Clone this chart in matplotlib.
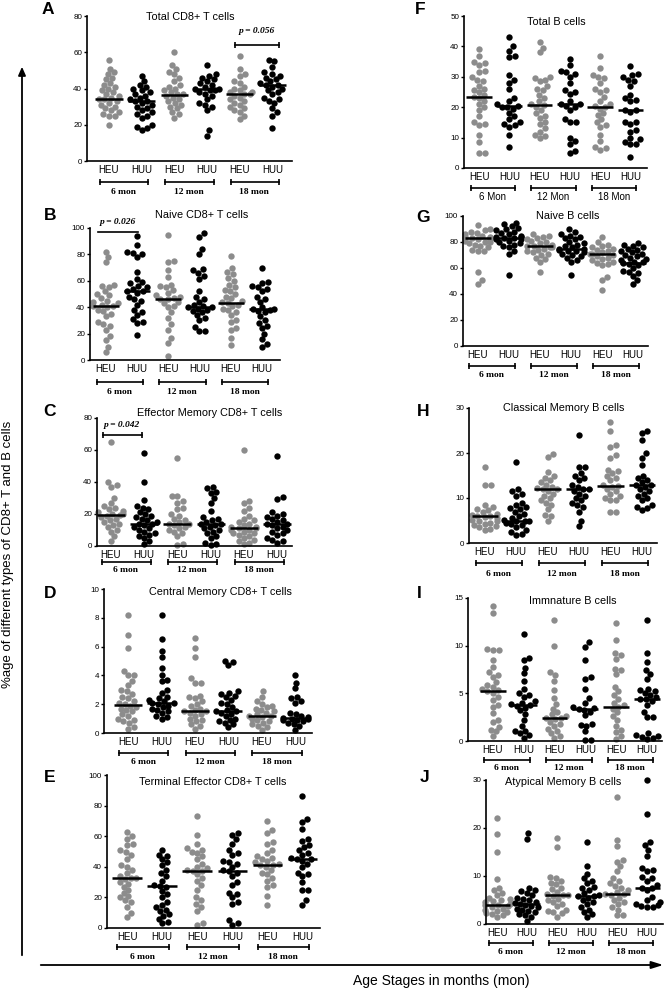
import matplotlib

matplotlib.use("Agg")
import matplotlib.pyplot as plt  # noqa: E402
import numpy as np  # noqa: E402
from matplotlib.transforms import blended_transform_factory, offset_copy  # noqa: E402

plt.rcParams.update({
    "font.family": "sans-serif",
    "font.sans-serif": ["Liberation Sans", "DejaVu Sans"],
    "axes.spines.top": False,
    "axes.spines.right": False,
})

W, H = 667, 989
GRAY = "#8c8c8c"
SERIF = "Liberation Serif"

groups = ["HEU", "HUU", "HEU", "HUU", "HEU", "HUU"]
ages_lower = ["6 mon", "12 mon", "18 mon"]
ages_upper = ["6 Mon", "12 Mon", "18 Mon"]

# ---- values (one list per HEU/HUU x 6/12/18 mon group) ----
total_cd8 = [
    [56, 51, 49, 48, 46, 45, 43, 42, 41, 40, 39, 38, 37, 36, 35, 34, 34, 33, 32, 31, 30, 29, 28, 27, 26, 25, 25, 20],
    [47, 44, 42, 41, 40, 39, 38, 37, 36, 35, 34, 33, 33, 32, 31, 30, 29, 28, 27, 26, 25, 24, 20, 19, 18, 17],
    [60, 53, 51, 49, 48, 46, 44, 42, 41, 40, 39, 38, 37, 37, 36, 35, 34, 33, 32, 31, 30, 29, 27, 26, 24],
    [53, 48, 47, 46, 45, 44, 43, 42, 41, 40, 40, 39, 39, 38, 37, 36, 34, 32, 31, 30, 28, 17, 14],
    [58, 51, 48, 47, 44, 43, 41, 40, 39, 38, 38, 37, 37, 36, 35, 34, 33, 32, 31, 30, 29, 28, 27, 25, 23],
    [56, 55, 52, 49, 48, 47, 46, 45, 44, 43, 42, 42, 41, 40, 39, 38, 37, 35, 34, 33, 32, 29, 27, 25, 18],
]
total_cd8_med = [34, 33, 36.5, 39.5, 37, 42]

naive_cd8 = [
    [82, 78, 74, 57, 56, 55, 52, 50, 49, 47, 45, 44, 43, 42, 41, 41, 40, 38, 37, 35, 33, 29, 27, 26, 23, 18, 15, 10, 6],
    [94, 87, 82, 81, 80, 78, 67, 61, 59, 58, 56, 55, 54, 52, 52, 51, 48, 46, 45, 42, 38, 36, 34, 31, 29, 28, 19],
    [95, 75, 74, 68, 63, 57, 56, 55, 53, 51, 49, 48, 47, 46.5, 46, 44, 43, 41, 40, 36, 32, 27, 23, 17, 13, 3],
    [96, 93, 84, 80, 69, 68, 66, 64, 61, 52, 48, 46, 44, 42, 41, 40.5, 40, 39, 38, 37, 36, 34, 32, 30, 25, 22, 22],
    [79, 70, 67, 65, 62, 60, 57, 55, 53, 52, 50, 48, 47, 45, 44, 43.5, 42, 41, 39, 38, 36, 34, 30, 29, 24, 23, 17, 11],
    [70, 59, 58, 56, 55, 54, 52, 48, 46, 44, 40, 39, 38.5, 38, 37, 36, 33, 30, 28, 26, 24, 20, 16, 12, 10],
]
naive_cd8_med = [41, 52, 46.5, 40.5, 43.5, 38.5]

em_cd8 = [
    [65, 40, 38, 37, 30, 27, 25, 24, 23, 22, 21, 20, 20, 19.5, 19, 18, 17, 16, 15, 14, 13, 12, 10, 9, 6, 3],
    [58, 40, 29, 25, 24, 23, 21, 20, 19, 18, 17, 16, 15, 14, 14, 13, 12, 11, 10, 9, 8, 7, 6, 5, 3, 1],
    [55, 31, 31, 28, 27, 24, 23, 20, 19, 17, 16, 15, 14, 14, 13, 12, 11, 10, 9, 8, 6, 1, 0.5],
    [37, 36, 34, 33, 30, 27, 22, 18, 17, 16, 15, 14, 13.5, 13, 12, 11, 10, 9, 8, 6, 5, 2, 1, 0.5],
    [60, 28, 27, 24, 22, 19, 17, 16, 15, 14, 13, 12, 12, 11, 11, 10, 10, 9, 8, 8, 7, 6, 5, 4, 3, 2, 1],
    [56, 30.5, 29.5, 21, 20, 19, 18, 17, 16, 15, 14, 14, 13, 12, 11, 10, 9, 8, 7, 5, 4, 3, 2],
]
em_cd8_med = [19.5, 14, 14, 13.5, 11, 14]

cm_cd8 = [
    [8.2, 6.8, 5.9, 4.3, 4.0, 4.0, 3.6, 3.3, 3.0, 2.9, 2.7, 2.5, 2.4, 2.2, 2.1, 2.0, 1.9, 1.8, 1.7, 1.6, 1.5, 1.3, 1.2, 1.0, 0.9, 0.8, 0.7, 0.4, 0.3],
    [8.2, 6.5, 5.7, 5.3, 4.5, 4.0, 3.7, 3.6, 3.0, 2.8, 2.5, 2.4, 2.3, 2.2, 2.1, 2.1, 2.0, 1.9, 1.8, 1.7, 1.6, 1.5, 1.4, 1.2, 1.1, 1.0],
    [6.6, 5.9, 5.3, 3.8, 3.5, 3.5, 2.6, 2.5, 2.4, 2.2, 2.0, 1.9, 1.7, 1.6, 1.5, 1.5, 1.4, 1.3, 1.2, 1.0, 0.9, 0.8, 0.6, 0.5, 0.3],
    [5.0, 4.9, 4.7, 2.9, 2.8, 2.7, 2.6, 2.5, 2.3, 2.1, 2.0, 1.8, 1.6, 1.5, 1.5, 1.4, 1.3, 1.2, 1.0, 0.9, 0.8, 0.7, 0.6, 0.4],
    [2.9, 2.5, 2.2, 2.0, 1.9, 1.8, 1.7, 1.6, 1.5, 1.4, 1.3, 1.2, 1.15, 1.1, 1.0, 0.9, 0.8, 0.7, 0.6, 0.5, 0.4, 0.2],
    [4.0, 3.5, 3.1, 2.5, 2.4, 2.2, 2.1, 1.4, 1.3, 1.2, 1.1, 1.05, 1.0, 1.0, 0.9, 0.9, 0.8, 0.7, 0.6, 0.5, 0.2],
]
cm_cd8_med = [1.95, 2.1, 1.5, 1.5, 1.15, 1.05]

te_cd8 = [
    [63, 60, 58, 55, 54, 51, 50, 48, 45, 41, 40, 38, 36, 34, 33, 32.5, 32, 30, 29, 27, 25, 23, 21, 20, 18, 17, 14, 10, 7],
    [51, 48, 47, 45, 43, 41, 38, 36, 34, 31, 28, 27.5, 27, 24, 22, 20, 17, 15, 14, 12, 11, 9, 8, 6, 4, 3],
    [73, 61, 55, 52, 51, 50, 49, 47, 45, 42, 40, 39, 38, 37.5, 37, 35, 33, 31, 28, 25, 20, 18, 16, 14, 11, 3, 2],
    [62, 61, 58, 55, 51, 49, 48, 44, 43, 42, 40, 38, 37, 36, 34, 30, 28, 23, 22, 20, 17, 16, 5, 3, 2],
    [70, 64, 62, 56, 55, 51, 49, 47, 46, 45, 44, 43, 42, 41.5, 41, 40, 38, 36, 35, 33, 31, 28, 27, 21, 15],
    [86, 71, 69, 65, 58, 57, 54, 53, 51, 49, 48, 46, 45, 45, 44, 42, 40, 36, 35, 34, 30, 25, 25, 18, 15],
]
te_cd8_med = [32.5, 27.5, 37.5, 37, 41.5, 45]

total_b = [
    [39, 37, 35, 34.5, 34, 32, 31.5, 30, 29, 28.5, 27, 26, 25.5, 25, 24, 23.5, 23, 22, 21, 20, 19, 17, 15, 14.5, 14, 11, 8.5, 5, 5],
    [43, 40, 38.5, 37, 36.5, 30.5, 29, 28, 26, 23, 22, 21, 20.5, 20, 20, 19.5, 18, 17, 16, 15, 14.5, 14, 13.5, 11, 7],
    [41.5, 39.5, 38, 30, 29.5, 29, 28.5, 27, 26, 25.5, 24, 23, 22, 21, 20.7, 20, 19, 18, 17, 16.5, 15, 14.5, 13, 12, 11, 10.5, 10],
    [36, 34, 32, 31.5, 31, 30, 28, 25.5, 25, 24.5, 22, 21, 21, 20.5, 20, 19, 16, 15, 15, 10, 9, 8, 5.5, 5],
    [37, 33, 30.5, 30, 29.5, 28, 26, 25.5, 25, 23.5, 22, 21, 20.5, 20, 19.5, 18, 17.5, 16, 15, 14, 13.5, 11, 9, 7, 6.5, 6],
    [33.5, 31, 30.5, 30, 29, 28.5, 27, 24, 23, 22.5, 22, 19, 19, 18.5, 15, 15, 14.5, 12.5, 12, 10, 9.5, 8.5, 8, 8, 3.5],
]
total_b_med = [23.5, 20.5, 20.7, 21, 20, 19]

naive_b = [
    [93, 90, 89, 88, 87, 86, 85, 84, 84, 83, 83, 83, 82, 82, 81, 80, 80, 79, 78, 77, 76, 74, 73, 73, 57, 51, 48],
    [95, 94, 92, 91, 90, 89, 88, 87, 86, 85, 84, 84, 83, 83, 82, 82, 81, 80, 79, 78, 77, 76, 73, 71, 55],
    [86, 85, 84, 83, 82, 81, 80, 79, 78, 77, 77, 76, 76, 75, 74, 73, 72, 71, 70, 68, 67, 65, 57],
    [90, 88, 86, 85, 84, 83, 82, 80, 79, 78, 77, 76, 75, 75, 74, 73, 73, 72, 71, 70, 69, 68, 66, 65, 55],
    [84, 80, 78, 77, 76, 75, 74, 73, 72, 71, 71, 70, 69, 68, 67, 66, 65, 64, 63, 62, 53, 51, 43],
    [79, 78, 77, 76, 75, 74, 73, 72, 71, 70, 69, 68, 67, 66, 65, 65, 64, 63, 62, 60, 58, 57, 56, 54, 51, 48],
]
naive_b_med = [83, 83, 77, 75, 71, 64]

classical_b = [
    [17, 13, 13, 8.5, 8, 7.5, 7.3, 7, 6.5, 6.3, 6, 6, 5.8, 5.5, 5.2, 5, 4.8, 4.5, 4.3, 4, 3.8, 3.5, 3.2, 3],
    [18, 12, 11.5, 11, 10.5, 9, 8.5, 8, 7.8, 7.5, 7, 6.5, 6, 5.5, 5.2, 5, 5, 4.8, 4.5, 4.2, 4, 3.5, 3, 2.5, 2, 1.8],
    [19.8, 19.2, 15.8, 15, 14.5, 14, 13.5, 13, 12.5, 12.2, 12, 12, 11.5, 11, 10.5, 10, 9.5, 9, 8.5, 7.5, 6.2, 6, 5],
    [24, 17, 17, 15.5, 15, 14.5, 14, 13, 12.5, 12, 12, 11.5, 11, 10.5, 10, 9.5, 9, 8.5, 8, 7, 5, 3.8],
    [27, 25, 21.7, 21.3, 19.5, 19, 16.3, 16, 15.5, 15, 14.5, 14, 13, 12.7, 12.5, 12, 11.5, 11, 10.5, 10, 9.5, 9.5, 7, 7],
    [25, 24.5, 23, 20, 19, 17.3, 15, 14.5, 14, 13.5, 13, 13, 12.5, 12, 11.5, 11, 10.5, 10, 9.5, 8.5, 8, 7.8, 7.3],
]
classical_b_med = [6, 5, 12, 12, 12.7, 13]

immature_b = [
    [14.2, 13.4, 9.6, 9.5, 9.5, 8.5, 7.8, 7.2, 6.9, 6.7, 6.2, 5.9, 5.7, 5.5, 5.3, 5.2, 5.0, 4.6, 4.3, 3.8, 3.6, 2.9, 2.2, 2.0, 1.5, 1.2, 1.0, 0.5],
    [11.2, 8.7, 8.5, 7.7, 7.1, 6.3, 5.5, 5.0, 4.8, 4.6, 4.2, 4.0, 3.9, 3.8, 3.7, 3.5, 3.2, 2.8, 2.2, 1.6, 1.1, 1.0, 0.8, 0.6, 0.3],
    [12.7, 10.0, 7.2, 6.9, 6.3, 5.3, 4.5, 3.9, 3.4, 3.0, 2.8, 2.6, 2.4, 2.4, 2.3, 2.0, 1.8, 1.6, 1.3, 1.0, 0.8, 0.5, 0.3],
    [10.4, 9.9, 8.5, 6.7, 6.5, 5.5, 4.5, 4.0, 3.6, 3.5, 3.4, 3.3, 3.0, 2.7, 1.8, 1.7, 1.6, 1.0, 0.1, 0.1],
    [12.4, 10.6, 9.2, 9.0, 8.6, 7.6, 7.4, 7.0, 5.7, 5.2, 4.8, 4.4, 4.0, 3.8, 3.6, 3.4, 3.0, 2.6, 2.2, 1.6, 1.2, 0.9, 0.5, 0.2],
    [12.7, 9.2, 8.3, 7.4, 7.0, 6.5, 5.5, 5.3, 5.2, 5.0, 4.8, 4.6, 4.4, 4.4, 4.2, 3.8, 3.0, 2.5, 2.5, 0.8, 0.6, 0.5, 0.4, 0.3, 0.2],
]
immature_b_med = [5.2, 3.8, 2.4, 3.4, 3.6, 4.4]

atypical_b = [
    [22, 18.8, 15, 9.4, 7.5, 7, 6.5, 6, 5.5, 5.2, 5, 4.7, 4.5, 4.2, 4, 4, 3.8, 3.5, 3.2, 3, 2.8, 2.5, 2.2, 2, 1.8, 1.5],
    [19, 17.8, 7.6, 7, 6.8, 6.5, 6, 5.5, 5.2, 5, 4.6, 4.3, 4.2, 4, 3.8, 3.5, 3.2, 3, 2.8, 2.5, 2, 1.8, 1.5, 0.7],
    [18, 16.1, 9.7, 9.5, 9, 8.5, 8.3, 7.6, 7.2, 6.7, 6.3, 6, 6, 5.8, 5.3, 5, 4.6, 4.2, 3.7, 3, 2.8, 2.4, 2.2, 1.5],
    [17, 12, 10.5, 9.5, 9, 8.5, 7.8, 7.5, 7, 6.4, 6, 5.8, 5.8, 5.5, 5, 4.5, 4.2, 3.5, 3, 2.5, 2, 1.5],
    [26.4, 17.5, 16.2, 13.3, 13, 12, 11, 9.5, 9, 8.5, 8, 7.6, 7, 6.7, 6.3, 6.2, 6, 5.5, 5, 4.5, 4.2, 3.5, 3, 1.9, 1.8],
    [30, 23, 17.1, 16.5, 15.4, 14.2, 11.6, 11.3, 11, 9.7, 9.5, 9, 8.2, 7.6, 7.6, 7, 5.7, 5, 4.5, 4.2, 4, 3.8, 3.6, 3.5],
]
atypical_b_med = [4, 4.2, 6, 5.8, 6.3, 7.6]

# panel: letter, title, data, medians, ymax, ytick step, age labels,
# axes box in pixels (left, top, right, bottom), x margin left/right (group units),
# title x (px), bracket / age label offsets below the axis (px)
panels = [
    ("A", "Total CD8+ T cells", total_cd8, total_cd8_med, 80, 20, ages_lower, (87, 16, 292, 161), (0.67, 0.6), 190, (21, 31)),
    ("B", "Naive CD8+ T cells", naive_cd8, naive_cd8_med, 100, 20, ages_lower, (90, 228, 280, 360), (0.5, 0.58), 202, (22, 32)),
    ("C", "Effector Memory CD8+ T cells", em_cd8, em_cd8_med, 80, 20, ages_lower, (97, 418, 292, 546), (0.42, 0.45), 210, (16, 24)),
    ("D", "Central Memory CD8+ T cells", cm_cd8, cm_cd8_med, 10, 2, ages_lower, (104, 589, 312, 733), (0.72, 0.5), 220, (20, 29)),
    ("E", "Terminal Effector CD8+ T cells", te_cd8, te_cd8_med, 100, 20, ages_lower, (107, 775, 320, 928), (0.57, 0.5), 213, (19, 29)),
    ("F", "Total B cells", total_b, total_b_med, 50, 10, ages_upper, (464, 16, 647, 168), (0.5, 0.55), 556, (20, 29)),
    ("G", "Naive B cells", naive_b, naive_b_med, 100, 20, ages_lower, (463, 216, 648, 346), (0.48, 0.48), 568, (20, 29)),
    ("H", "Classical Memory B cells", classical_b, classical_b_med, 30, 10, ages_lower, (469, 408, 657, 543), (0.5, 0.48), 564, (20, 31)),
    ("I", "Immnature B cells", immature_b, immature_b_med, 15, 5, ages_lower, (468, 598, 662, 741), (0.8, 0.48), 573, (19, 27)),
    ("J", "Atypical Memory B cells", atypical_b, atypical_b_med, 30, 10, ages_lower, (486, 780, 663, 924), (0.37, 0.53), 563, (19, 28)),
]

letter_pos = {"A": (48, 10), "B": (50, 215), "C": (50, 412), "D": (50, 593), "E": (50, 777),
              "F": (420, 9), "G": (423, 217), "H": (423, 412), "I": (419, 593), "J": (425, 777)}
title_y = {"A": 17, "B": 215, "C": 413, "D": 592, "E": 782,
           "F": 22, "G": 216, "H": 408, "I": 601, "J": 782}


def swarm_x(vals, center, ypx, xpx, d=5.8, cap=12.5):
    """Beeswarm offsets in pixels, converted back to group units."""
    vals = np.asarray(vals, dtype=float)
    out = np.zeros(len(vals))
    placed = []
    for i in np.argsort(vals):
        y = vals[i] * ypx
        near = [(px, py) for px, py in placed if abs(py - y) < d]
        cands = [0.0]
        for px, py in near:
            dx = np.sqrt(d * d - (py - y) ** 2)
            cands += [px + dx, px - dx]
        cands.sort(key=abs)
        best = cands[-1]
        for c in cands:
            if all((c - px) ** 2 + (y - py) ** 2 >= d * d - 1e-6 for px, py in near):
                best = c
                break
        best = max(-cap, min(cap, best))
        placed.append((best, y))
        out[i] = center + best / xpx
    return out


fig = plt.figure(figsize=(W / 100, H / 100), dpi=100)
axes = {}
for (letter, title, data, meds, ymax, ystep, ages, box, marg, tx, offs) in panels:
    l, t, r, b = box
    ax = fig.add_axes([l / W, 1 - b / H, (r - l) / W, (b - t) / H])
    axes[letter] = ax
    ax.set_xlim(-marg[0], 5 + marg[1])
    ax.set_ylim(0, ymax)
    ypx = (b - t) / ymax
    xpx = (r - l) / (5 + marg[0] + marg[1])
    for gi, vals in enumerate(data):
        color = GRAY if gi % 2 == 0 else "black"
        xs = swarm_x(vals, gi, ypx, xpx)
        ax.scatter(xs, vals, s=21, color=color, linewidths=0, zorder=2, clip_on=False)
        ax.plot([gi - 0.42, gi + 0.42], [meds[gi], meds[gi]], color="black", lw=1.8, zorder=3,
                solid_capstyle="butt")
    ax.set_yticks(np.arange(0, ymax + ystep / 2, ystep))
    ax.set_xticks(range(6), groups)
    ax.tick_params(axis="x", length=0, pad=3, labelsize=7)
    ax.tick_params(axis="y", length=2.5, width=1, pad=1, labelsize=5.8)
    for s in ("left", "bottom"):
        ax.spines[s].set_linewidth(1.2)

    fig.text(tx / W, 1 - title_y[letter] / H, title, ha="center", va="center", fontsize=7.8)
    lx, ly = letter_pos[letter]
    fig.text(lx / W, 1 - ly / H, letter, ha="center", va="center", fontsize=12.5, fontweight="bold")

    trans = blended_transform_factory(ax.transData, ax.transAxes)
    br_trans = offset_copy(trans, fig=fig, y=-offs[0], units="dots")
    lb_trans = offset_copy(trans, fig=fig, y=-offs[1], units="dots")
    for k, age in enumerate(ages):
        x0, x1 = 2 * k - 0.28, 2 * k + 1.2
        ax.plot([x0, x1], [0, 0], color="black", lw=1.2, transform=br_trans, clip_on=False)
        ax.plot([x0, x1], [0, 0], ls="none", marker="|", ms=4, mew=1.2, color="black",
                transform=br_trans, clip_on=False)
        if letter == "F":
            ax.text(2 * k + 0.45, 0, age, transform=lb_trans, ha="center", va="center", fontsize=7)
        else:
            ax.text(2 * k + 0.45, 0, age, transform=lb_trans, ha="center", va="center",
                    fontsize=6.8, fontweight="bold", family=SERIF)


def p_bracket(ax, x0, x1, y, ty, label, caps=True):
    ax.plot([x0, x1], [y, y], color="black", lw=1.2, clip_on=False)
    if caps:
        ax.plot([x0, x1], [y, y], ls="none", marker="|", ms=4, mew=1.2, color="black", clip_on=False)
    ax.text((x0 + x1) / 2, ty, label, ha="center", va="center", fontsize=6.8,
            fontweight="bold", fontstyle="italic", family=SERIF, clip_on=False)


p_bracket(axes["A"], 3.85, 5.2, 64, 71.5, "p = 0.056")
p_bracket(axes["B"], -0.25, 1.03, 97, 104.5, "p = 0.026", caps=False)
p_bracket(axes["C"], -0.25, 0.93, 69.4, 75.8, "p = 0.042")

# big axis arrows and labels
fig.add_artist(matplotlib.patches.FancyArrowPatch(
    (22 / W, 1 - 958 / H), (22 / W, 1 - 64 / H), transform=fig.transFigure,
    arrowstyle="-|>,head_length=5,head_width=2.2", mutation_scale=1, lw=1.3, color="black"))
fig.add_artist(matplotlib.patches.FancyArrowPatch(
    (38 / W, 1 - 965 / H), (666 / W, 1 - 965 / H), transform=fig.transFigure,
    arrowstyle="-|>,head_length=7,head_width=2.2", mutation_scale=1, lw=1.3, color="black"))
fig.text(8 / W, 1 - 554 / H, "%age of different types of CD8+ T and B cells", rotation=90,
         ha="center", va="center", fontsize=9.5)
fig.text(441 / W, 1 - 981 / H, "Age Stages in months (mon)", ha="center", va="center", fontsize=10)

fig.savefig("out.png", dpi=100)
